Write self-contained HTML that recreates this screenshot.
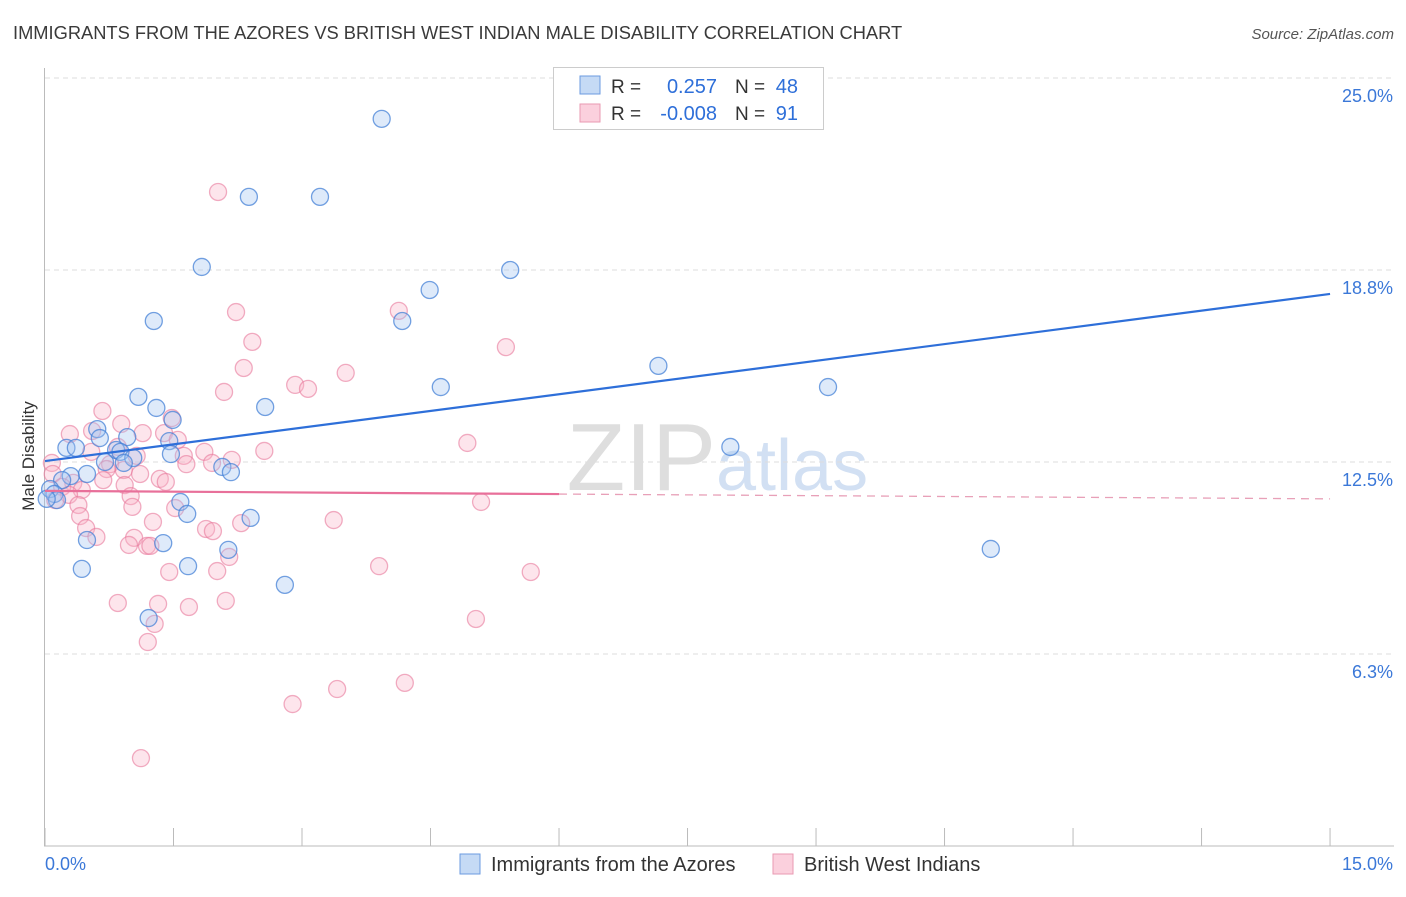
<!DOCTYPE html>
<html><head><meta charset="utf-8"><style>
body{margin:0;background:#fff;font-family:"Liberation Sans",sans-serif;}
svg text{font-family:"Liberation Sans",sans-serif;}
</style></head><body>
<svg id="chart" width="1406" height="892" xmlns="http://www.w3.org/2000/svg">
<text x="13" y="39" font-size="18.3" fill="#3a3a3a">IMMIGRANTS FROM THE AZORES VS BRITISH WEST INDIAN MALE DISABILITY CORRELATION CHART</text>
<text x="1394" y="39" font-size="15" fill="#555" font-style="italic" text-anchor="end">Source: ZipAtlas.com</text>
<text x="716" y="490" font-size="96" fill="#dedede" font-family="Liberation Serif" text-anchor="end">ZIP</text>
<text x="716" y="490" font-size="72" fill="#d2e0f3">atlas</text>
<g id="grid"></g><g id="axes"></g><g id="pts"></g><g id="lines"></g>
<text transform="translate(34,456) rotate(-90)" font-size="17" fill="#333" text-anchor="middle">Male Disability</text>
<g>
<rect x="553.5" y="67.5" width="270" height="62" fill="#fff" stroke="#ccc"/>
<rect x="580" y="76" width="20" height="18" fill="#c5daf5" stroke="#6b9be0"/>
<rect x="580" y="104" width="20" height="18" fill="#fbd0dd" stroke="#e89ab2"/>
<text x="611" y="93" font-size="19" fill="#333">R =</text><text x="717" y="93" font-size="20" fill="#2e6fd9" text-anchor="end">0.257</text>
<text x="735" y="93" font-size="19" fill="#333">N =</text><text x="798" y="93" font-size="20" fill="#2e6fd9" text-anchor="end">48</text>
<text x="611" y="120" font-size="19" fill="#333">R =</text><text x="717" y="120" font-size="20" fill="#2e6fd9" text-anchor="end">-0.008</text>
<text x="735" y="120" font-size="19" fill="#333">N =</text><text x="798" y="120" font-size="20" fill="#2e6fd9" text-anchor="end">91</text>
</g>
<g>
<rect x="460" y="854" width="20" height="20" fill="#c5daf5" stroke="#6b9be0"/>
<text x="491" y="871" font-size="20" fill="#333">Immigrants from the Azores</text>
<rect x="773" y="854" width="20" height="20" fill="#fbd0dd" stroke="#e89ab2"/>
<text x="804" y="871" font-size="20" fill="#333">British West Indians</text>
</g>
</svg>
<script>
const yTicks=[6.25,12.5,18.75,25];
const yTickLabels=["6.3%","12.5%","18.8%","25.0%"];
const xTicks=[0,1.5,3,4.5,6,7.5,9,10.5,12,13.5,15];
const blueX=[3.93,2.38,3.21,1.83,5.43,4.49,1.27,4.17,7.16,4.62,9.14,1.09,2.57,1.30,1.49,0.61,0.96,0.64,1.45,0.25,0.36,8.00,0.83,0.88,1.47,1.03,0.70,0.92,2.07,2.17,0.49,0.30,0.20,0.06,0.11,0.14,1.58,1.66,2.40,0.49,1.38,2.14,11.04,0.43,1.67,2.80,1.21,0.02];
const blueY=[23.67,21.13,21.13,18.85,18.75,18.10,17.09,17.09,15.63,14.94,14.94,14.62,14.29,14.26,13.87,13.57,13.31,13.28,13.18,12.96,12.96,12.99,12.89,12.83,12.76,12.63,12.50,12.47,12.34,12.17,12.11,12.04,11.91,11.62,11.46,11.26,11.20,10.81,10.68,9.96,9.86,9.64,9.67,9.02,9.11,8.50,7.42,11.3];
const pinkX=[2.02,2.23,4.13,2.42,5.38,2.32,3.51,2.92,3.07,2.09,0.67,1.48,0.89,0.55,0.29,1.14,1.39,1.55,4.93,0.85,0.54,1.86,2.56,1.07,1.62,2.18,0.08,0.76,1.65,1.95,0.72,0.92,1.11,0.09,1.34,1.41,0.68,0.93,0.33,0.20,0.43,0.28,1.00,0.12,0.39,5.09,1.02,1.52,0.41,3.37,1.26,2.29,0.48,1.88,1.96,0.60,1.04,0.98,1.19,1.23,2.15,3.90,1.45,2.01,5.67,0.85,1.32,1.68,2.11,1.28,5.03,1.20,4.20,3.41,2.89,1.12];
const pinkY=[21.29,17.38,17.42,16.41,16.24,15.56,15.40,15.01,14.88,14.78,14.16,13.93,13.74,13.51,13.41,13.44,13.44,13.22,13.12,12.99,12.83,12.83,12.86,12.70,12.70,12.57,12.47,12.43,12.43,12.47,12.27,12.24,12.11,12.11,11.95,11.85,11.91,11.75,11.82,11.69,11.59,11.43,11.39,11.26,11.10,11.20,11.04,11.00,10.74,10.61,10.55,10.51,10.35,10.32,10.25,10.06,10.03,9.80,9.77,9.77,9.41,9.11,8.92,8.95,8.92,7.91,7.88,7.78,7.98,7.23,7.39,6.64,5.31,5.11,4.62,2.86];
const blueTrend=[12.53,17.97];
const pinkTrend=[11.56,11.30];
const pinkSolidEnd=6;
const NS="http://www.w3.org/2000/svg";
const X=v=>45+v*85.67, Y=v=>846-v*30.72;
function mk(tag,attrs,parent){const e=document.createElementNS(NS,tag);for(const k in attrs)e.setAttribute(k,attrs[k]);document.getElementById(parent).appendChild(e);return e;}
yTicks.forEach((t,i)=>{
 const l=mk('line',{x1:45,x2:1394,y1:Y(t),y2:Y(t),stroke:'#ddd','stroke-dasharray':'5,4'},'grid');
 
 
 const tx=mk('text',{x:1393,y:Y(t)+24,'font-size':18,fill:'#3b78d8','text-anchor':'end'},'grid');
 tx.textContent=yTickLabels[i];
 
 
});
const ya=mk('line',{x1:44.5,x2:44.5,y1:68,y2:846,stroke:'#bbb'},'axes');


const xa=mk('line',{x1:44,x2:1394,y1:846,y2:846,stroke:'#bbb'},'axes');


xTicks.forEach(t=>{
 const l=mk('line',{x1:X(t),x2:X(t),y1:828,y2:846,stroke:'#bbb'},'axes');
 
 
});
const x0=mk('text',{x:45,y:870,'font-size':18,fill:'#3b78d8'},'axes');x0.textContent='0.0%';


const x1=mk('text',{x:1393,y:870,'font-size':18,fill:'#3b78d8','text-anchor':'end'},'axes');x1.textContent='15.0%';


pinkX.forEach((v,i)=>{
 const c=mk('circle',{cx:X(v),cy:Y(pinkY[i]),r:8.5,fill:'rgba(248,180,200,0.35)',stroke:'rgba(232,120,155,0.6)','stroke-width':1.3},'pts');
 
 
});
blueX.forEach((v,i)=>{
 const c=mk('circle',{cx:X(v),cy:Y(blueY[i]),r:8.5,fill:'rgba(160,195,240,0.35)',stroke:'rgba(70,130,215,0.75)','stroke-width':1.3},'pts');
 
 
});
const bl=mk('line',{x1:X(0),y1:Y(blueTrend[0]),x2:X(15),y2:Y(blueTrend[1]),stroke:'#2e6fd9','stroke-width':2.2},'lines');


const pm=pinkTrend[0]+(pinkTrend[1]-pinkTrend[0])*pinkSolidEnd/15;
const pl=mk('line',{x1:X(0),y1:Y(pinkTrend[0]),x2:X(pinkSolidEnd),y2:Y(pm),stroke:'#e8709a','stroke-width':2.2},'lines');


const pd=mk('line',{x1:X(pinkSolidEnd),y1:Y(pm),x2:X(15),y2:Y(pinkTrend[1]),stroke:'#e8a0b8','stroke-width':1.3,'stroke-dasharray':'8,6'},'lines');


</script>
</body></html>
